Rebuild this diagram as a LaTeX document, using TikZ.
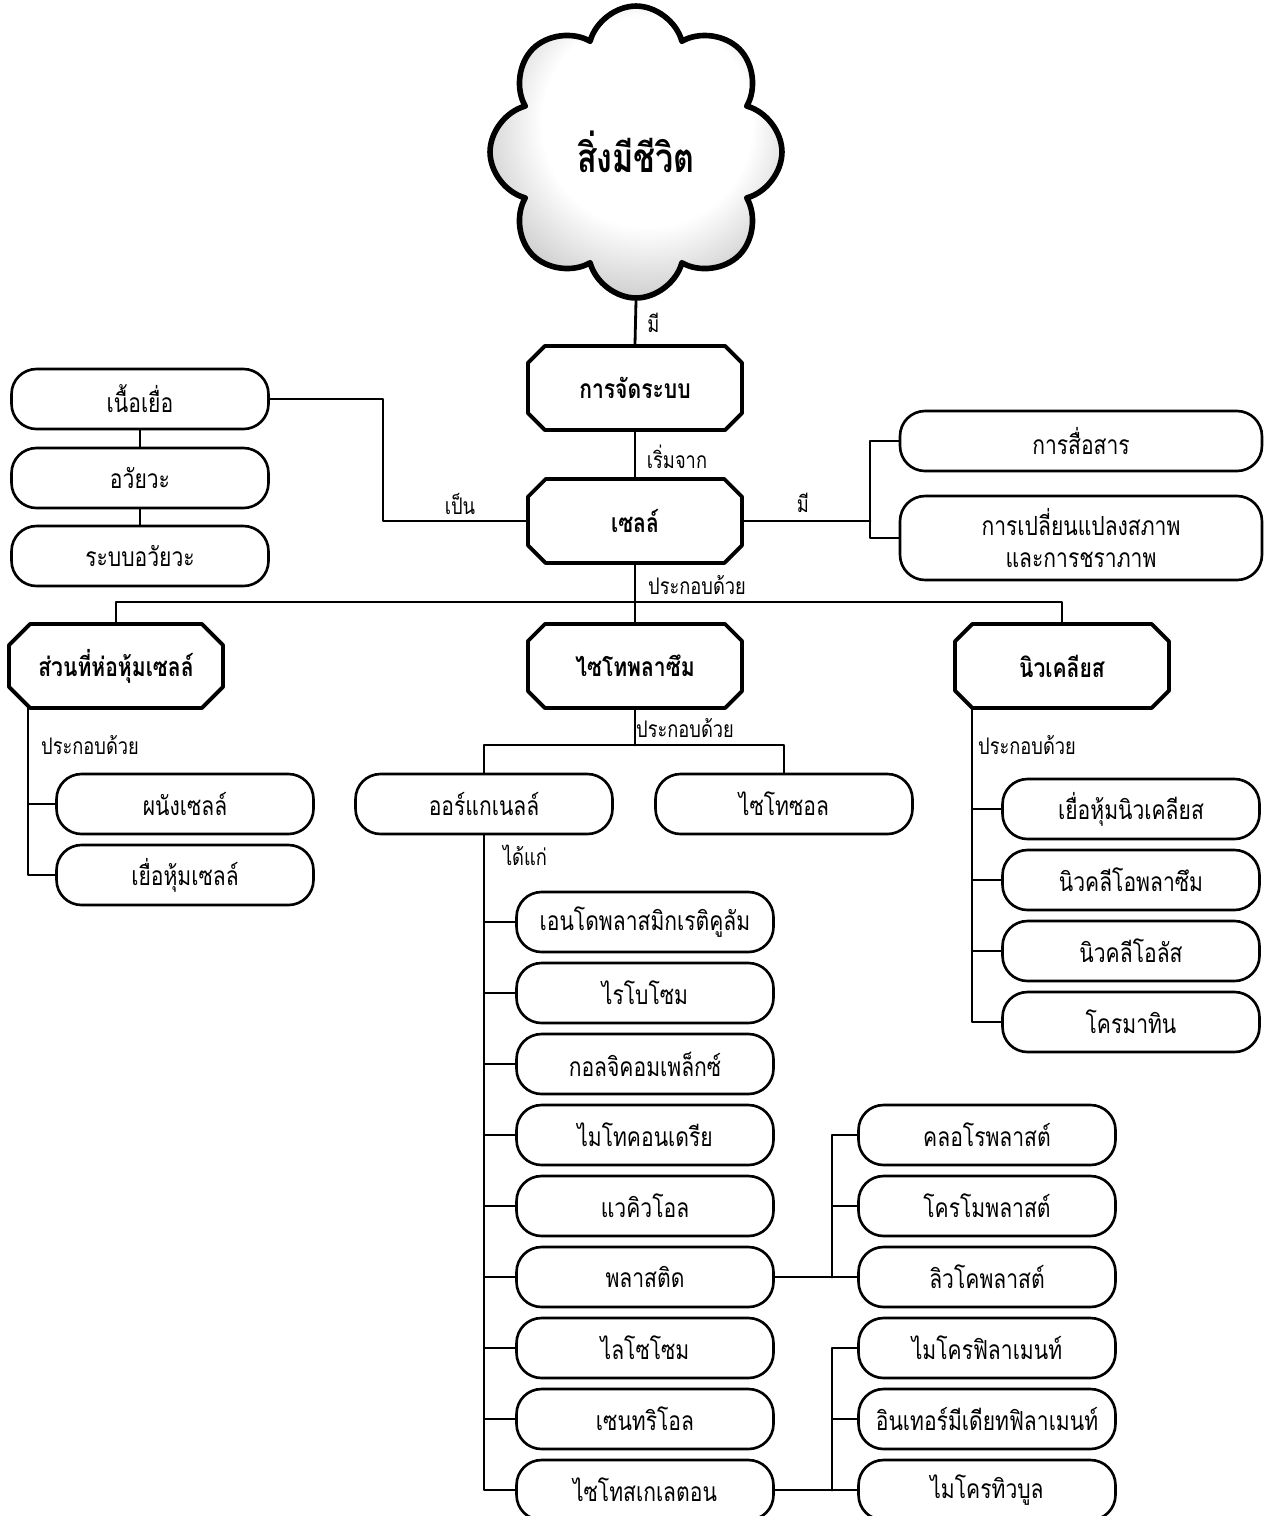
\documentclass[tikz,border=0pt]{standalone}
\usepackage{fontspec}
\setmainfont[Script=Thai,FakeStretch=0.8]{Loma}
\usetikzlibrary{shapes.misc,shapes.symbols}
\pgfdeclareradialshading{cloudshade}{\pgfpoint{3bp}{8bp}}{color(0bp)=(white); color(18bp)=(white); color(32bp)=(gray!50); color(50bp)=(gray!80)}

\begin{document}
\begin{tikzpicture}[x=0.02cm,y=-0.02cm,line cap=round,line join=round,line width=1.6pt,
		rbox/.style={draw,rectangle,rounded corners=0.5cm,line width=1.5pt,minimum width=5.14cm,minimum height=1.2cm,inner sep=0pt,font=\fontsize{15}{18}\selectfont},
		obox/.style={draw,chamfered rectangle,chamfered rectangle xsep=0.3cm,line width=2.2pt,minimum width=4.28cm,minimum height=1.68cm,inner sep=0pt,font=\bfseries\fontsize{15}{18}\selectfont},
		lbl/.style={inner sep=0pt,font=\fontsize{13}{15}\selectfont}]
	\useasboundingbox (0,0) rectangle (1268,1516);
	
	% top of the map
	\node[draw,cloud,cloud puffs=8,aspect=1,line width=3.2pt,minimum width=5.84cm,minimum height=5.84cm,
		shading=cloudshade,font=\bfseries\fontsize{23}{27}\selectfont] (life) at (636,152) {สิ่งมีชีวิต};
	\node[obox] (org) at (635,388) {การจัดระบบ};
	\node[obox] (cell) at (635,521) {เซลล์};
	\node[obox] (wrap) at (116,666) {ส่วนที่ห่อหุ้มเซลล์};
	\node[obox] (cyto) at (635,666) {ไซโทพลาซึม};
	\node[obox] (nucleus) at (1062,666) {นิวเคลียส};
	
	\node[rbox] (tissue) at (140,399) {เนื้อเยื่อ};
	\node[rbox] (organ) at (140,478) {อวัยวะ};
	\node[rbox] (system) at (140,556) {ระบบอวัยวะ};
	\node[rbox,minimum width=7.24cm] (comm) at (1081,441) {การสื่อสาร};
	\node[rbox,minimum width=7.24cm,minimum height=1.68cm,align=center] (aging) at (1081,538) {การเปลี่ยนแปลงสภาพ\\และการชราภาพ};
	
	\node[rbox] (wall) at (185,804) {ผนังเซลล์};
	\node[rbox] (memb) at (185,875) {เยื่อหุ้มเซลล์};
	\node[rbox] (organelle) at (484,804) {ออร์แกเนลล์};
	\node[rbox] (cytosol) at (784,804) {ไซโทซอล};
	
	\foreach \n/\t [count=\i from 0] in {o1/เอนโดพลาสมิกเรติคูลัม,o2/ไรโบโซม,o3/กอลจิคอมเพล็กซ์,o4/ไมโทคอนเดรีย,o5/แวคิวโอล,o6/พลาสติด,o7/ไลโซโซม,o8/เซนทริโอล,o9/ไซโทสเกเลตอน}{
		\node[rbox] (\n) at (645,922+71*\i) {\t};
		\draw (organelle.south) |- (\n.west);}
	\foreach \n/\t [count=\i from 0] in {n1/เยื่อหุ้มนิวเคลียส,n2/นิวคลีโอพลาซึม,n3/นิวคลีโอลัส,n4/โครมาทิน}{
		\node[rbox] (\n) at (1131,809+71*\i) {\t};
		\draw (972,708) |- (\n.west);}
	\foreach \n/\t [count=\i from 0] in {p1/คลอโรพลาสต์,p2/โครโมพลาสต์,p3/ลิวโคพลาสต์}{
		\node[rbox] (\n) at (987,1135+71*\i) {\t};
		\draw (832,1277) |- (\n.west);}
	\foreach \n/\t [count=\i from 0] in {s1/ไมโครฟิลาเมนท์,s2/อินเทอร์มีเดียทฟิลาเมนท์,s3/ไมโครทิวบูล}{
		\node[rbox] (\n) at (987,1348+71*\i) {\t};
		\draw (832,1490) |- (\n.west);}
	
	% connectors
	\draw (life.south) -- (org.north) node[lbl,pos=0.5,right=6pt] (l1) {มี};
	\draw (org.south) -- (cell.north) node[lbl,pos=0.55,right=6pt] (l2) {เริ่มจาก};
	\draw (cell.west) -- (383,521) |- (tissue.east);
	\node[lbl] (l3) at (460,504) {เป็น};
	\draw (tissue.south) -- (organ.north);
	\draw (organ.south) -- (system.north);
	\draw (cell.east) -- (870,521);
	\draw (comm.west) -| (870,521) |- (aging.west);
	\node[lbl] (l4) at (803,503) {มี};
	\draw (cell.south) -- (cyto.north);
	\draw (wrap.north) |- (635,602) -| (nucleus.north);
	\node[lbl] (l5) at (697,585) {ประกอบด้วย};
	\draw (28,708) |- (wall.west);
	\draw (28,708) |- (memb.west);
	\node[lbl] (l6) at (90,745) {ประกอบด้วย};
	\draw (cyto.south) -- (635,745);
	\draw (organelle.north) |- (635,745) -| (cytosol.north);
	\node[lbl] (l7) at (685,728) {ประกอบด้วย};
	\node[lbl] (l8) at (525,855) {ได้แก่};
	\node[lbl] (l9) at (1027,745) {ประกอบด้วย};
	\draw (o6.east) -- (p3.west);
	\draw (o9.east) -- (s3.west);
\end{tikzpicture}
\end{document}
